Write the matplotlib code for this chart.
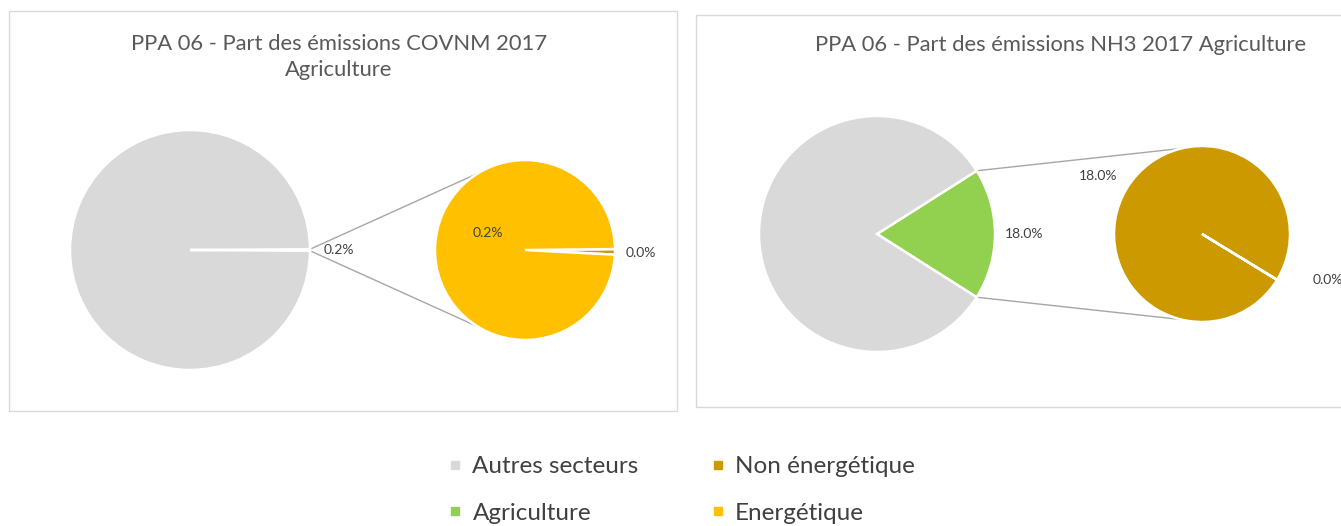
import matplotlib
matplotlib.use("Agg")
import numpy as np
import matplotlib.pyplot as plt
from matplotlib.patches import Rectangle
from matplotlib.lines import Line2D

W, H = 1341, 526

# DATA (percent of total emissions)
SECTEURS = ["Agriculture", "Autres secteurs"]
SOUS_SECTEURS = ["Non énergétique", "Energétique"]
COVNM_SECTEURS = [0.2, 99.8]
COVNM_AGRI = [0.002, 0.198]
NH3_SECTEURS = [18.0, 82.0]
NH3_AGRI = [17.99, 0.01]
TITRE_COVNM = "PPA 06 - Part des émissions COVNM 2017\nAgriculture"
TITRE_NH3 = "PPA 06 - Part des émissions NH3 2017 Agriculture"

# COLOURS
COL_AUTRES = "#d9d9d9"
COL_AGRI = "#92d050"
COL_NON_ENER = "#cc9900"
COL_ENER = "#ffc000"
COL_TEXT = "#404040"
COL_TITLE = "#595959"
COL_BORDER = "#d9d9d9"
COL_LINK = "#a6a6a6"

FONT = "Lato"


def up(y):
    # image pixel row -> axes y (origin at bottom)
    return H - y


def polar(cx, cy, r, ang):
    a = np.radians(ang)
    return cx + r * np.cos(a), cy + r * np.sin(a)


def link_point(cx, cy, r, px, py, upper, extra=7.0):
    """ point on the secondary circle where the connector from (px,py) ends
    (tangent point, pushed a little further round like excel does) """
    d = np.hypot(px - cx, py - cy)
    base = np.degrees(np.arctan2(py - cy, px - cx))
    off = np.degrees(np.arccos(r / d)) - extra
    ang = base - off if upper else base + off
    return polar(cx, cy, r, ang)


def pie_of_pie(ax, main_vals, sub_vals, sub_order, main_c, main_r, sub_c, sub_r, sub_start):
    # main pie: the "Agriculture" slice centred on 0 deg
    frac = main_vals[0] / sum(main_vals)
    half = frac * 180.0
    ax.pie(main_vals, colors=[COL_AGRI, COL_AUTRES], startangle=-half, counterclock=True,
           center=main_c, radius=main_r, frame=True,
           wedgeprops={"edgecolor": "white", "linewidth": 1.8})

    # secondary pie with the detail of agriculture
    vals = [sub_vals[i] for i in sub_order]
    cols = [[COL_NON_ENER, COL_ENER][i] for i in sub_order]
    ax.pie(vals, colors=cols, startangle=sub_start, counterclock=True,
           center=sub_c, radius=sub_r, frame=True,
           wedgeprops={"edgecolor": "white", "linewidth": 1.8})

    # connector lines
    top = polar(main_c[0], main_c[1], main_r, half)
    bot = polar(main_c[0], main_c[1], main_r, -half)
    t1 = link_point(sub_c[0], sub_c[1], sub_r, top[0], top[1], upper=True)
    t2 = link_point(sub_c[0], sub_c[1], sub_r, bot[0], bot[1], upper=False)
    ax.plot([top[0], t1[0]], [top[1], t1[1]], color=COL_LINK, lw=1.0, zorder=0.5)
    ax.plot([bot[0], t2[0]], [bot[1], t2[1]], color=COL_LINK, lw=1.0, zorder=0.5)


fig = plt.figure(figsize=(W / 100, H / 100), dpi=100)
ax = fig.add_axes([0, 0, 1, 1])

# panel frames
ax.add_patch(Rectangle((9, up(411)), 668, 400, fill=False, edgecolor=COL_BORDER, lw=1.0))
ax.add_patch(Rectangle((696, up(407)), 660, 392, fill=False, edgecolor=COL_BORDER, lw=1.0))

# COVNM
pie_of_pie(ax, COVNM_SECTEURS, COVNM_AGRI, [0, 1], (190, up(250)), 120, (525, up(250)), 90, -3.0)
# NH3
pie_of_pie(ax, NH3_SECTEURS, NH3_AGRI, [1, 0], (877, up(234)), 118, (1202, up(234)), 88, -31.5)

lab = dict(fontsize=10, color=COL_TEXT, family=FONT, va="center")
# COVNM labels
ax.text(190 + 120 + 14, up(250), f"{COVNM_SECTEURS[0]:.1f}%", ha="left", **lab)
ax.text(*polar(525, up(250), 90 * 0.45, 155), f"{COVNM_AGRI[1]:.1f}%", ha="center", **lab)
ax.text(*polar(525, up(250), 90 * 1.29, -1.5), f"{COVNM_AGRI[0]:.1f}%", ha="center", **lab)
# NH3 labels
ax.text(877 + 118 + 10, up(234), f"{NH3_SECTEURS[0]:.1f}%", ha="left", **lab)
ax.text(*polar(1202, up(234), 88 * 1.35, 151), f"{NH3_AGRI[0]:.1f}%", ha="center", **lab)
ax.text(*polar(1202, up(234), 88 * 1.52, -20), f"{NH3_AGRI[1]:.1f}%", ha="center", **lab)

# titles
ax.text(339, up(57), TITRE_COVNM, ha="center", va="center", fontsize=15.8, color=COL_TITLE,
        family=FONT, linespacing=1.4)
ax.text(1061, up(45), TITRE_NH3, ha="center", va="center", fontsize=15.8, color=COL_TITLE, family=FONT)

ax.set_xlim(0, W)
ax.set_ylim(0, H)
ax.set_aspect("auto")
ax.axis("off")

# legend (column-major: Autres, Agriculture | Non énergétique, Energétique)
handles = [Line2D([], [], ls="", marker="s", ms=6, color=c) for c in
           [COL_AUTRES, COL_AGRI, COL_NON_ENER, COL_ENER]]
labels = [SECTEURS[1], SECTEURS[0], SOUS_SECTEURS[0], SOUS_SECTEURS[1]]
fig.legend(handles, labels, ncol=2, loc="center", bbox_to_anchor=(682 / W, 36 / H),
           frameon=False, prop={"family": FONT, "size": 17.5}, labelcolor=COL_TEXT,
           handlelength=0.5, handletextpad=0.45, columnspacing=3.0, labelspacing=1.05)

fig.savefig("out.png", dpi=100)
